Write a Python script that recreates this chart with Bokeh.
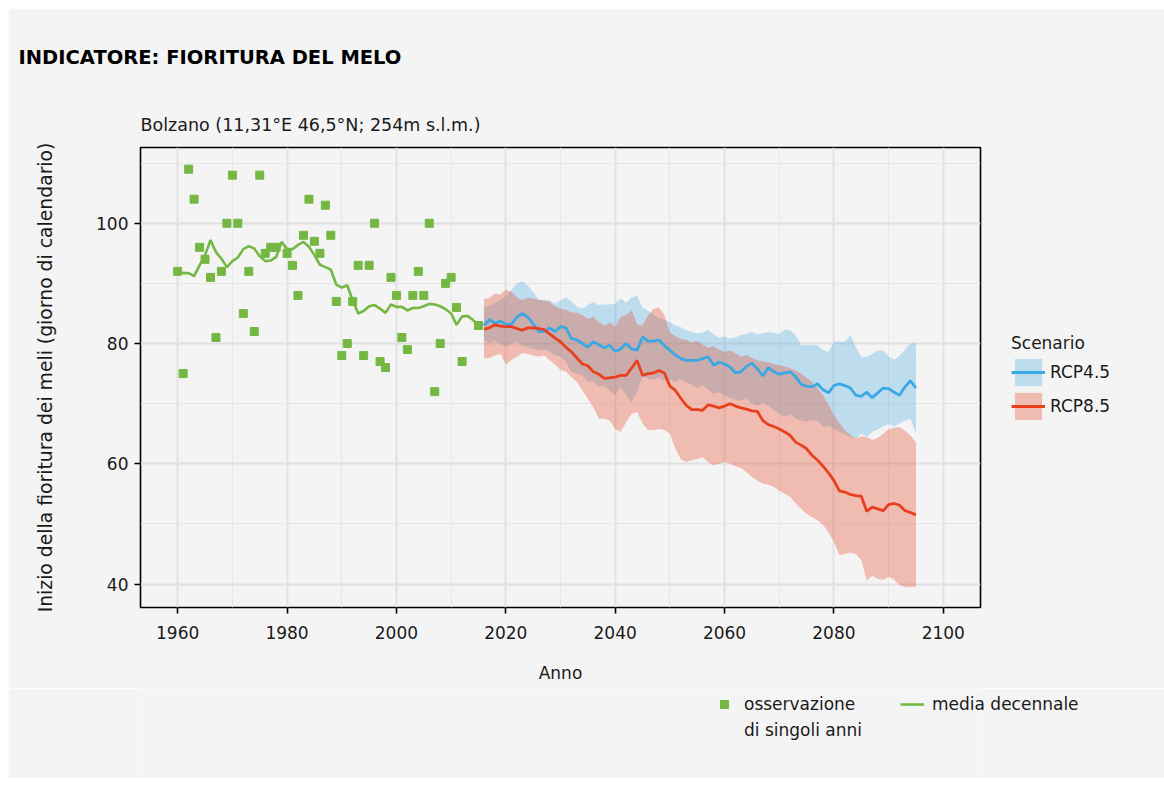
from bokeh.plotting import figure
from bokeh.layouts import column
from bokeh.models import FixedTicker, Legend, LegendItem, Title, Range1d
from bokeh.embed import file_html
from bokeh.resources import INLINE

# ---------------- data ----------------
obs_years = list(range(1960, 1979)) + list(range(1980, 2013)) + [2015]
obs_values = [92, 75, 109, 104, 96, 94, 91, 81, 92, 100, 108, 100, 85, 92, 82, 108, 95, 96, 96,
              95, 93, 88, 98, 104, 97, 95, 103, 98, 87,
              78, 80, 87, 93, 78, 93, 100, 77, 76, 91,
              88, 81, 79, 88, 92, 88, 100, 72, 80, 90,
              91, 86, 77,
              83]

mean_years = list(range(1960, 2016))
mean_values = [92.0, 91.7, 91.7, 91.2, 93.0, 94.7, 97.2, 95.2, 94.1, 92.7,
               93.7, 94.3, 95.7, 96.2, 95.8, 94.5, 93.7, 93.8, 94.4, 96.9,
               95.7, 95.7, 96.4, 96.9, 96.1, 94.7, 93.1, 92.7, 92.3, 89.8,
               89.3, 89.7, 87.2, 85.0, 85.4, 86.2, 86.4, 85.8, 85.1, 86.5,
               86.1, 86.1, 85.5, 85.9, 85.9, 86.2, 86.6, 86.5, 86.2, 85.7,
               85.0, 83.1, 84.5, 84.6, 83.9, 83.0]

proj_years = list(range(2016, 2096))

rcp45_mean = [83.0, 84.0, 83.4, 83.7, 83.2, 83.2, 84.4, 85.0, 84.4, 83.3, 82.0, 82.0, 82.6,
              82.0, 82.8, 82.6, 80.8, 80.6, 80.0, 79.4, 80.3, 79.8, 79.3, 79.7, 78.7, 79.1,
              80.0, 79.1, 78.9, 81.1, 80.4, 80.4, 80.6, 79.6, 78.9, 78.1, 77.5, 77.2, 77.2,
              77.2, 77.5, 77.8, 76.4, 76.9, 76.6, 76.1, 75.1, 75.3, 76.2, 76.7, 75.8, 74.6,
              76.0, 75.3, 74.9, 75.1, 75.3, 74.5, 73.2, 72.9, 72.8, 73.3, 72.3, 71.8, 73.0,
              73.3, 73.0, 72.6, 71.4, 71.2, 71.9, 71.0, 71.8, 72.6, 72.5, 71.9, 71.4, 72.8,
              73.8, 72.6]
rcp45_high = [86.0, 86.3, 86.8, 87.3, 87.8, 88.9, 90.0, 90.3, 89.6, 88.6, 87.3, 87.2, 87.2,
              86.6, 87.2, 87.7, 87.0, 86.1, 85.8, 86.4, 86.9, 86.4, 86.5, 86.5, 86.6, 87.5,
              86.8, 87.7, 88.0, 86.0, 85.5, 84.8, 84.3, 83.9, 83.6, 83.0, 82.7, 82.2, 81.9,
              81.7, 81.8, 82.3, 81.5, 80.9, 81.2, 80.8, 81.0, 81.4, 81.6, 81.9, 81.5, 81.7,
              81.9, 81.8, 81.6, 82.3, 82.2, 81.4, 79.7, 79.7, 79.7, 79.7, 78.9, 78.6, 80.3,
              80.3, 80.3, 81.4, 79.4, 77.8, 77.7, 78.3, 78.8, 78.9, 77.8, 77.3, 78.0, 79.0,
              80.0, 80.1]
rcp45_low = [80.5, 80.0, 80.5, 80.0, 79.4, 80.0, 80.3, 79.7, 79.4, 79.1, 78.9, 79.1, 78.7,
             78.0, 77.8, 76.9, 75.3, 75.0, 74.7, 73.6, 73.7, 72.8, 73.0, 72.2, 71.4, 72.8,
             71.5, 70.2, 72.0, 74.5, 74.2, 74.0, 74.3, 73.8, 74.0, 73.6, 74.1, 73.5, 73.2,
             72.6, 73.0, 72.3, 71.6, 71.9, 71.3, 71.0, 70.6, 70.5, 70.8, 70.0, 69.6, 70.1,
             69.7, 69.0, 68.3, 67.8, 68.3, 67.5, 67.2, 67.0, 67.3, 67.2, 66.1, 66.3, 65.8,
             65.3, 65.0, 64.4, 64.2, 65.0, 64.4, 65.3, 65.7, 66.2, 66.6, 66.2, 66.7, 67.2,
             67.5, 65.0]

rcp85_mean = [82.4, 82.6, 83.1, 82.9, 82.8, 82.8, 82.5, 82.2, 82.6, 82.6, 82.5, 82.3, 81.6,
              80.9, 80.3, 79.4, 78.6, 77.6, 76.6, 76.3, 75.3, 74.9, 74.2, 74.3, 74.4, 74.7,
              74.7, 75.9, 77.2, 74.7, 75.0, 75.1, 75.5, 75.1, 72.9, 72.2, 70.9, 69.7, 69.0,
              69.0, 68.9, 69.8, 69.6, 69.3, 69.6, 70.0, 69.6, 69.3, 69.1, 68.8, 68.7, 67.2,
              66.5, 66.2, 65.8, 65.3, 64.7, 63.6, 63.1, 62.5, 61.4, 60.6, 59.6, 58.5, 57.2,
              55.5, 55.3, 54.9, 54.7, 54.6, 52.1, 52.8, 52.5, 52.2, 53.2, 53.4, 53.1, 52.2,
              51.9, 51.5]
rcp85_high = [87.4, 87.6, 88.3, 88.2, 89.0, 88.6, 87.7, 87.2, 87.6, 87.5, 87.3, 87.2, 86.9,
              86.2, 85.8, 85.6, 85.2, 85.1, 84.7, 84.1, 84.4, 83.6, 83.0, 83.5, 82.8, 84.4,
              84.8, 85.5, 83.2, 83.0, 84.6, 85.8, 86.0, 84.8, 81.8, 81.2, 80.8, 80.6, 80.2,
              80.4, 79.8, 79.3, 79.6, 79.0, 78.6, 78.9, 78.4, 77.8, 78.1, 77.6, 77.2, 77.0,
              76.9, 76.6, 76.4, 76.2, 75.9, 75.5, 75.0, 74.3, 73.6, 72.6, 71.4, 69.8, 68.1,
              66.8, 65.6, 64.8, 64.2, 64.6, 64.4, 64.0, 64.3, 65.0, 65.8, 66.0, 66.1, 65.5,
              64.7, 63.6]
rcp85_low = [77.5, 77.6, 78.0, 78.3, 76.5, 77.2, 77.8, 78.4, 78.3, 78.0, 77.8, 78.0, 77.2,
             76.5, 75.6, 75.3, 74.4, 73.6, 72.2, 70.8, 69.4, 67.5, 67.5, 67.2, 65.8, 65.3,
             66.9, 68.3, 68.6, 66.7, 65.6, 65.6, 65.8, 65.6, 65.0, 62.5, 60.8, 60.3, 60.6,
             60.8, 61.1, 60.3, 59.7, 60.0, 60.3, 60.0, 59.6, 59.3, 58.6, 57.8, 57.2, 56.7,
             56.5, 56.2, 55.5, 55.0, 54.5, 53.4, 52.5, 51.7, 51.1, 50.6, 49.8, 48.6, 47.0,
             44.8, 45.0, 45.2, 45.0, 44.0, 40.6, 41.4, 40.9, 40.7, 41.2, 40.7, 39.8, 39.5,
             39.5, 39.6]

x_ticks = [1960, 1980, 2000, 2020, 2040, 2060, 2080, 2100]
x_minor = [1950, 1970, 1990, 2010, 2030, 2050, 2070, 2090, 2110]
y_ticks = [40, 60, 80, 100]
y_minor = [30, 50, 70, 90, 110]

title_text = "INDICATORE: FIORITURA DEL MELO"
subtitle_text = "Bolzano (11,31°E 46,5°N; 254m s.l.m.)"
x_label = "Anno"
y_label = "Inizio della fioritura dei meli (giorno di calendario)"
obs_label = "osservazione"
obs_label_2 = "di singoli anni"
mean_label = "media decennale"

# ---------------- style ----------------
FONT = "DejaVu Sans"
BG = "#f4f4f4"
GREEN = "#74b843"
BLUE = "#3aa9e3"
RED = "#e8401c"
TXT = "#1a1a1a"

p = figure(frame_width=840, frame_height=460,
           x_range=Range1d(1953.2, 2106.8), y_range=Range1d(36.1, 112.6),
           output_backend="svg", toolbar_location=None,
           min_border_left=132, min_border_right=176,
           min_border_top=139, min_border_bottom=81)

p.background_fill_color = BG
p.border_fill_color = BG
p.outline_line_color = "black"
p.outline_line_width = 1.6

# grids
for g, maj, mino in ((p.xgrid, x_ticks, x_minor), (p.ygrid, y_ticks, y_minor)):
    g.ticker = FixedTicker(ticks=maj, minor_ticks=mino)
    g.grid_line_color = "#e0e0e0"
    g.grid_line_width = 1.8
    g.minor_grid_line_color = "#e6e6e6"
    g.minor_grid_line_width = 1.0

p.xaxis.ticker = FixedTicker(ticks=x_ticks, minor_ticks=[])
p.yaxis.ticker = FixedTicker(ticks=y_ticks, minor_ticks=[])
for ax in (p.xaxis, p.yaxis):
    ax.axis_line_color = None
    ax.major_tick_line_color = "black"
    ax.major_tick_line_width = 1.6
    ax.major_tick_out = 6
    ax.major_tick_in = 0
    ax.minor_tick_line_color = None
    ax.major_label_text_font = FONT
    ax.major_label_text_font_size = "17px"
    ax.major_label_text_color = TXT
    ax.axis_label_text_font = FONT
    ax.axis_label_text_font_size = "17px"
    ax.axis_label_text_font_style = "normal"
    ax.axis_label_text_color = TXT
p.xaxis.axis_label = x_label
p.yaxis.axis_label = y_label
p.yaxis.axis_label_text_font_size = "18.8px"
p.xaxis.major_label_standoff = 12
p.yaxis.major_label_standoff = 6
p.xaxis.axis_label_standoff = 21
p.yaxis.axis_label_standoff = 37

# titles
sub = Title(text=subtitle_text, align="left", text_font=FONT, text_font_size="17.5px",
            text_font_style="normal", text_color=TXT, standoff=25, offset=0)
p.add_layout(sub, "above")
main = Title(text=title_text, align="left", text_font=FONT, text_font_size="19.5px",
             text_font_style="bold", text_color="black", standoff=64, offset=-122)
p.add_layout(main, "above")

# data renderers
band45 = p.varea(x=proj_years, y1=rcp45_low, y2=rcp45_high, fill_color="#3fa9e0", fill_alpha=0.3)
band85 = p.varea(x=proj_years, y1=rcp85_low, y2=rcp85_high, fill_color=RED, fill_alpha=0.31)
pts = p.scatter(obs_years, obs_values, marker="square", size=8, color=GREEN)
gline = p.line(mean_years, mean_values, line_color=GREEN, line_width=2.6)
l45 = p.line(proj_years, rcp45_mean, line_color=BLUE, line_width=2.8)
l85 = p.line(proj_years, rcp85_mean, line_color=RED, line_width=2.8)

def style_legend(leg):
    leg.border_line_color = None
    leg.background_fill_alpha = 0
    leg.padding = 0
    leg.margin = 0
    leg.label_text_font = FONT
    leg.label_text_font_size = "17px"
    leg.label_text_color = TXT
    leg.title_text_font = FONT
    leg.title_text_font_size = "17px"
    leg.title_text_font_style = "normal"
    leg.title_text_color = TXT

scen = Legend(items=[LegendItem(label="RCP4.5", renderers=[band45, l45]),
                     LegendItem(label="RCP8.5", renderers=[band85, l85])],
              title="Scenario", location=(31, 184),
              glyph_width=34, glyph_height=34, spacing=-1, label_standoff=5,
              title_standoff=2)
style_legend(scen)
p.add_layout(scen, "right")

# ---- strip below the chart holding the key of the observations ----
# (the key renderers reuse the series, which fall outside this strip's ranges
#  and so are clipped away; only their legend glyphs are drawn)
p2 = figure(frame_width=840, frame_height=90, output_backend="svg", toolbar_location=None,
            x_axis_location=None, y_axis_location=None,
            min_border_left=132, min_border_right=176, min_border_top=0, min_border_bottom=0,
            x_range=Range1d(0, 1), y_range=Range1d(0, 1))
p2.background_fill_color = BG
p2.border_fill_color = BG
p2.outline_line_color = None
p2.grid.visible = False
k_pts = p2.scatter(obs_years, obs_values, marker="square", size=8, color=GREEN)
k_line = p2.line(mean_years, mean_values, line_color=GREEN, line_width=2.6)
k_ghost = p2.scatter(x=[], y=[], marker="square", size=8, fill_alpha=0, line_alpha=0)

bottom = Legend(items=[LegendItem(label=obs_label, renderers=[k_pts]),
                       LegendItem(label=obs_label_2, renderers=[k_ghost]),
                       LegendItem(label=mean_label, renderers=[k_line])],
                orientation="vertical", location=(-268, 38),
                glyph_width=24, glyph_height=20, spacing=6, label_standoff=8,
                label_width=150)
if "nrows" in Legend.properties():
    bottom.nrows = 2
style_legend(bottom)
p2.add_layout(bottom, "right")

layout = column(p, p2, margin=(8, 8, 8, 8), spacing=0)
open("out.html", "w").write(file_html(layout, INLINE))
